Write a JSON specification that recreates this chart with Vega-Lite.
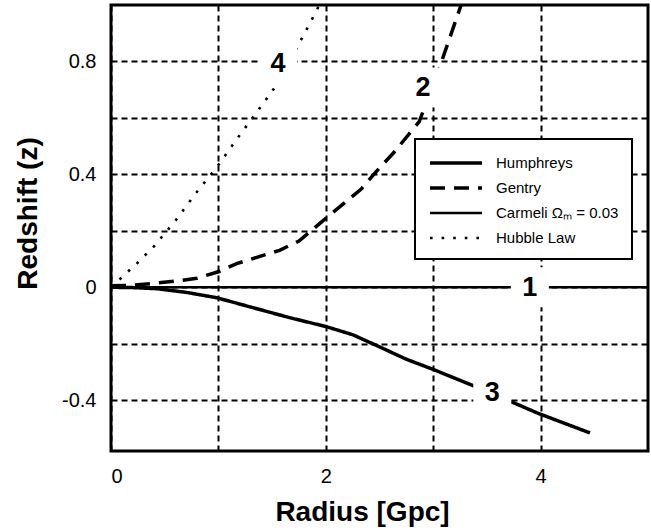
{
  "$schema": "https://vega.github.io/schema/vega-lite/v6.json",
  "width": 537,
  "height": 446,
  "autosize": {"type": "none"},
  "padding": {"left": 111, "top": 5, "right": 3, "bottom": 79},
  "background": "white",
  "config": {
    "view": {"stroke": "black", "strokeWidth": 3},
    "font": "Liberation Sans",
    "axis": {
      "grid": true,
      "gridColor": "black",
      "gridDash": [6, 4],
      "gridWidth": 2,
      "gridOpacity": 1,
      "ticks": false,
      "domain": false,
      "labelFont": "Liberation Sans",
      "labelFontSize": 20,
      "labelColor": "black",
      "titleFont": "Liberation Sans",
      "titleFontSize": 28,
      "titleFontWeight": "bold",
      "titleColor": "black"
    }
  },
  "datasets": {
    "curves": [
      {"model": "Humphreys", "r": 0, "z": 0},
      {"model": "Humphreys", "r": 0.2, "z": -0.001},
      {"model": "Humphreys", "r": 0.425, "z": -0.005},
      {"model": "Humphreys", "r": 0.7, "z": -0.018},
      {"model": "Humphreys", "r": 0.984, "z": -0.037},
      {"model": "Humphreys", "r": 1.3, "z": -0.07},
      {"model": "Humphreys", "r": 1.667, "z": -0.108},
      {"model": "Humphreys", "r": 2.0, "z": -0.139},
      {"model": "Humphreys", "r": 2.25, "z": -0.168},
      {"model": "Humphreys", "r": 2.5, "z": -0.211},
      {"model": "Humphreys", "r": 2.75, "z": -0.255},
      {"model": "Humphreys", "r": 3.02, "z": -0.294},
      {"model": "Humphreys", "r": 3.4, "z": -0.353},
      {"model": "Humphreys", "r": 3.73, "z": -0.406},
      {"model": "Humphreys", "r": 3.98, "z": -0.447},
      {"model": "Humphreys", "r": 4.46, "z": -0.516},
      {"model": "Gentry", "r": 0, "z": 0.005},
      {"model": "Gentry", "r": 0.2, "z": 0.007},
      {"model": "Gentry", "r": 0.425, "z": 0.015},
      {"model": "Gentry", "r": 0.61, "z": 0.022},
      {"model": "Gentry", "r": 0.8, "z": 0.032},
      {"model": "Gentry", "r": 1.0, "z": 0.055},
      {"model": "Gentry", "r": 1.17, "z": 0.084},
      {"model": "Gentry", "r": 1.57, "z": 0.131},
      {"model": "Gentry", "r": 1.75, "z": 0.164},
      {"model": "Gentry", "r": 2.0, "z": 0.244},
      {"model": "Gentry", "r": 2.33, "z": 0.348},
      {"model": "Gentry", "r": 2.465, "z": 0.408},
      {"model": "Gentry", "r": 2.64, "z": 0.48},
      {"model": "Gentry", "r": 2.87, "z": 0.587},
      {"model": "Gentry", "r": 3.06, "z": 0.78},
      {"model": "Gentry", "r": 3.26, "z": 1.0},
      {"model": "Carmeli Ωₘ = 0.03", "r": 0, "z": 0},
      {"model": "Carmeli Ωₘ = 0.03", "r": 5, "z": 0},
      {"model": "Hubble Law", "r": 0, "z": 0},
      {"model": "Hubble Law", "r": 0.1, "z": 0.035},
      {"model": "Hubble Law", "r": 0.245, "z": 0.086},
      {"model": "Hubble Law", "r": 0.4, "z": 0.145},
      {"model": "Hubble Law", "r": 0.6, "z": 0.236},
      {"model": "Hubble Law", "r": 0.79, "z": 0.333},
      {"model": "Hubble Law", "r": 0.99, "z": 0.428},
      {"model": "Hubble Law", "r": 1.175, "z": 0.527},
      {"model": "Hubble Law", "r": 1.365, "z": 0.624},
      {"model": "Hubble Law", "r": 1.55, "z": 0.721},
      {"model": "Hubble Law", "r": 1.753, "z": 0.865},
      {"model": "Hubble Law", "r": 1.853, "z": 0.936},
      {"model": "Hubble Law", "r": 1.94, "z": 1.0}
    ],
    "labels": [
      {"lab": "1", "r": 3.9, "z": 0.0},
      {"lab": "2", "r": 2.905, "z": 0.708},
      {"lab": "3", "r": 3.55, "z": -0.37},
      {"lab": "4", "r": 1.555, "z": 0.793}
    ]
  },
  "layer": [
    {
      "data": {"name": "curves"},
      "mark": {"type": "line", "color": "black", "clip": true, "strokeCap": "butt"},
      "encoding": {
        "x": {
          "field": "r", "type": "quantitative",
          "scale": {"domain": [0, 5], "nice": false, "zero": false},
          "axis": {
            "values": [0, 1, 2, 3, 4],
            "labelExpr": "datum.value % 2 == 0 ? toString(datum.value) : ''",
            "labelPadding": 15,
            "title": "Radius [Gpc]",
            "titleX": 251,
            "titleY": 69,
            "titleBaseline": "alphabetic",
            "titleAlign": "center"
          }
        },
        "y": {
          "field": "z", "type": "quantitative",
          "scale": {"domain": [-0.58, 1.0], "nice": false, "zero": false},
          "axis": {
            "values": [-0.4, -0.2, 0, 0.2, 0.4, 0.6, 0.8],
            "labelExpr": "abs(round(datum.value * 10)) % 4 == 0 ? toString(datum.value) : ''",
            "labelPadding": 15,
            "title": "Redshift (z)",
            "titleAngle": -90,
            "titleX": -75,
            "titleY": 208,
            "titleAlign": "center",
            "titleBaseline": "alphabetic"
          }
        },
        "strokeDash": {
          "field": "model", "type": "nominal",
          "scale": {
            "domain": ["Humphreys", "Gentry", "Carmeli Ωₘ = 0.03", "Hubble Law"],
            "range": [[1, 0], [15, 9], [1, 0], [2.6, 9]]
          },
          "legend": {
            "title": null,
            "orient": "none",
            "legendX": 304,
            "legendY": 134,
            "symbolType": "stroke",
            "symbolSize": 2704,
            "symbolStrokeColor": "black",
            "labelFont": "Liberation Sans",
            "labelFontSize": 15,
            "labelColor": "black",
            "labelOffset": 12,
            "padding": 13,
            "rowPadding": 6,
            "strokeColor": "black",
            "fillColor": "white",
            "encode": {
              "legend": {"update": {"strokeWidth": {"value": 2}}},
              "symbols": {"update": {"y": {"value": 11}}},
              "labels": {"update": {"y": {"value": 11}}}
            }
          }
        },
        "strokeWidth": {
          "field": "model", "type": "nominal",
          "scale": {
            "type": "ordinal",
            "domain": ["Humphreys", "Gentry", "Carmeli Ωₘ = 0.03", "Hubble Law"],
            "range": [3.5, 3.5, 2.5, 2.6]
          }
        }
      }
    },
    {
      "data": {"name": "labels"},
      "mark": {"type": "point", "filled": true, "fill": "white", "opacity": 1, "strokeWidth": 0, "size": 1600, "shape": "M-0.95,-1H0.95V1H-0.95Z"},
      "encoding": {
        "x": {"field": "r", "type": "quantitative"},
        "y": {"field": "z", "type": "quantitative"}
      }
    },
    {
      "data": {"name": "labels"},
      "mark": {"type": "text", "font": "Liberation Sans", "fontSize": 27, "fontWeight": "bold", "color": "black", "align": "center", "baseline": "middle", "dy": 1},
      "encoding": {
        "x": {"field": "r", "type": "quantitative"},
        "y": {"field": "z", "type": "quantitative"},
        "text": {"field": "lab"}
      }
    }
  ]
}
